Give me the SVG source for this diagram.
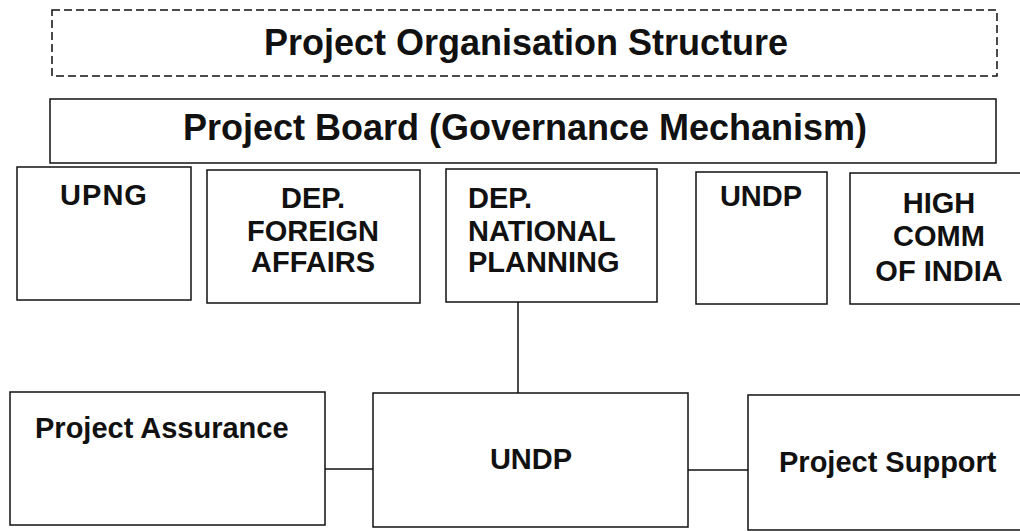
<svg xmlns="http://www.w3.org/2000/svg" width="1020" height="531" viewBox="0 0 1020 531">
<style>
.box{fill:#fff;stroke:#111;stroke-width:1.5}
.dash{fill:none;stroke:#111;stroke-width:1.5;stroke-dasharray:8 4}
.t{font-family:"Liberation Sans",Arial,sans-serif;font-weight:bold;fill:#111}
.big{font-size:36px;text-anchor:middle}
.m{font-size:29px}
.c{text-anchor:middle}
.conn{stroke:#111;stroke-width:1.5;fill:none}
</style>
<rect width="1020" height="531" fill="#fff"/>
<g id="connectors">
<line class="conn" x1="518" y1="302" x2="518" y2="393"/>
<line class="conn" x1="325" y1="469" x2="373" y2="469"/>
<line class="conn" x1="688" y1="470" x2="748" y2="470"/>
</g>
<g id="title">
<rect class="dash" x="52" y="10" width="945" height="66"/>
<text class="t big" x="526" y="55">Project Organisation Structure</text>
</g>
<g id="board">
<rect class="box" x="50" y="99" width="946" height="64"/>
<text class="t big" x="525" y="140">Project Board (Governance Mechanism)</text>
</g>
<g id="upng">
<rect class="box" x="17" y="167" width="174" height="133"/>
<text class="t m c" x="104" y="205" letter-spacing="1">UPNG</text>
</g>
<g id="dep-foreign">
<rect class="box" x="207" y="170" width="213" height="133"/>
<text class="t m c" x="313" y="208">DEP.</text>
<text class="t m c" x="313" y="241">FOREIGN</text>
<text class="t m c" x="313" y="272">AFFAIRS</text>
</g>
<g id="dep-national">
<rect class="box" x="446" y="169" width="211" height="133"/>
<text class="t m" x="468" y="208">DEP.</text>
<text class="t m" x="468" y="241">NATIONAL</text>
<text class="t m" x="468" y="272">PLANNING</text>
</g>
<g id="undp-board">
<rect class="box" x="696" y="172" width="131" height="132"/>
<text class="t m c" x="761" y="206">UNDP</text>
</g>
<g id="high-comm">
<rect class="box" x="850" y="173" width="180" height="131"/>
<text class="t m c" x="939" y="213">HIGH</text>
<text class="t m c" x="939" y="246">COMM</text>
<text class="t m c" x="939" y="281">OF INDIA</text>
</g>
<g id="project-assurance">
<rect class="box" x="10" y="392" width="315" height="133"/>
<text class="t m" x="35" y="438">Project Assurance</text>
</g>
<g id="undp">
<rect class="box" x="373" y="393" width="315" height="134"/>
<text class="t m c" x="531" y="469">UNDP</text>
</g>
<g id="project-support">
<rect class="box" x="748" y="395" width="290" height="135"/>
<text class="t m" x="779" y="472">Project Support</text>
</g>
</svg>
